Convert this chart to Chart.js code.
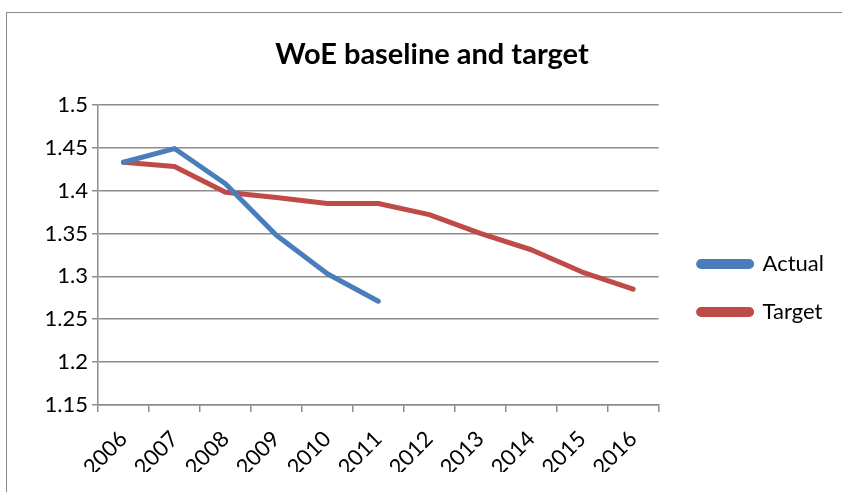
<!DOCTYPE html>
<html>
<head>
<meta charset="utf-8">
<script src="https://cdn.jsdelivr.net/npm/chart.js@4/dist/chart.umd.min.js"></script>
<style>
  html, body { margin: 0; padding: 0; background: #ffffff; overflow: hidden; }
  #wrap { position: relative; width: 842px; height: 492px; overflow: hidden; }
  #frame { position: absolute; left: 6px; top: 12px; width: 900px; height: 600px;
           border: 1px solid #8a8a8a; box-sizing: border-box; }
  canvas { position: absolute; left: 0; top: 0; }
</style>
</head>
<body>
<div id="wrap">
  <div id="frame"></div>
  <canvas id="chart" width="842" height="492"></canvas>
</div>
<script>
// Years on the category axis
const years = ['2006', '2007', '2008', '2009', '2010', '2011', '2012', '2013', '2014', '2015', '2016'];

// Measured WoE values (stops after 2011)
const actual = [1.433, 1.449, 1.408, 1.348, 1.303, 1.271];

// Target trajectory through 2016
const target = [1.433, 1.428, 1.398, 1.392, 1.385, 1.385, 1.372, 1.350, 1.331, 1.305, 1.285];

// Value-axis tick labels
const yTicks = [1.15, 1.2, 1.25, 1.3, 1.35, 1.4, 1.45, 1.5];

const FONT = 'Lato, "Open Sans", "DejaVu Sans", sans-serif';
const GRID = '#8c8c8c';

new Chart(document.getElementById('chart'), {
  type: 'line',
  data: {
    labels: years,
    datasets: [
      {
        label: 'Actual',
        data: actual,
        borderColor: '#4a7ebb',
        backgroundColor: '#4a7ebb',
        borderWidth: 5,
        pointRadius: 0,
        tension: 0,
        borderCapStyle: 'round',
        borderJoinStyle: 'round'
      },
      {
        label: 'Target',
        data: target,
        borderColor: '#be4b48',
        backgroundColor: '#be4b48',
        borderWidth: 5,
        pointRadius: 0,
        tension: 0,
        borderCapStyle: 'round',
        borderJoinStyle: 'round'
      }
    ]
  },
  options: {
    responsive: false,
    animation: false,
    layout: { padding: { left: 30, right: 8, top: 0, bottom: 20 } },
    plugins: {
      title: {
        display: true,
        text: 'WoE baseline and target',
        color: '#000000',
        font: { family: FONT, size: 29, weight: 'bold', lineHeight: 1.2 },
        padding: { top: 37, bottom: 33 }
      },
      legend: {
        position: 'right',
        align: 'center',
        maxWidth: 300,
        // empty heading used as a spacer to push the entries down
        title: {
          display: true,
          text: '',
          font: { family: FONT, size: 10, lineHeight: 1 },
          padding: { top: 94, bottom: 0 }
        },
        labels: {
          color: '#000000',
          font: { family: FONT, size: 22 },
          boxWidth: 53,
          boxHeight: 5,
          padding: 26,
          useBorderRadius: true,
          borderRadius: 2.5
        }
      },
      tooltip: { enabled: false }
    },
    scales: {
      x: {
        type: 'category',
        offset: true,
        grid: {
          offset: true,
          drawOnChartArea: false,
          drawTicks: true,
          tickLength: 7,
          color: GRID,
          lineWidth: 1.5
        },
        border: { display: true, color: GRID, width: 1.5 },
        ticks: {
          color: '#000000',
          font: { family: FONT, size: 22 },
          maxRotation: 45,
          minRotation: 45,
          autoSkip: false,
          padding: 14
        },
        afterFit: s => { s.height = 67; }
      },
      y: {
        type: 'linear',
        min: yTicks[0],
        max: yTicks[yTicks.length - 1],
        afterBuildTicks: s => { s.ticks = yTicks.map(v => ({ value: v })); },
        grid: {
          color: GRID,
          lineWidth: 1.5,
          drawTicks: true,
          tickLength: 6
        },
        border: { display: true, color: GRID, width: 1.5 },
        ticks: {
          color: '#000000',
          font: { family: FONT, size: 22 },
          padding: 4,
          callback: v => String(Number(v.toFixed(2)))
        },
        afterFit: s => { s.width = 68; }
      },
      gap: {
        type: 'linear',
        position: 'right',
        display: true,
        grid: { display: false },
        border: { display: false },
        ticks: { display: false },
        afterFit: s => { s.width = 14; }
      }
    }
  }
});
</script>
</body>
</html>
